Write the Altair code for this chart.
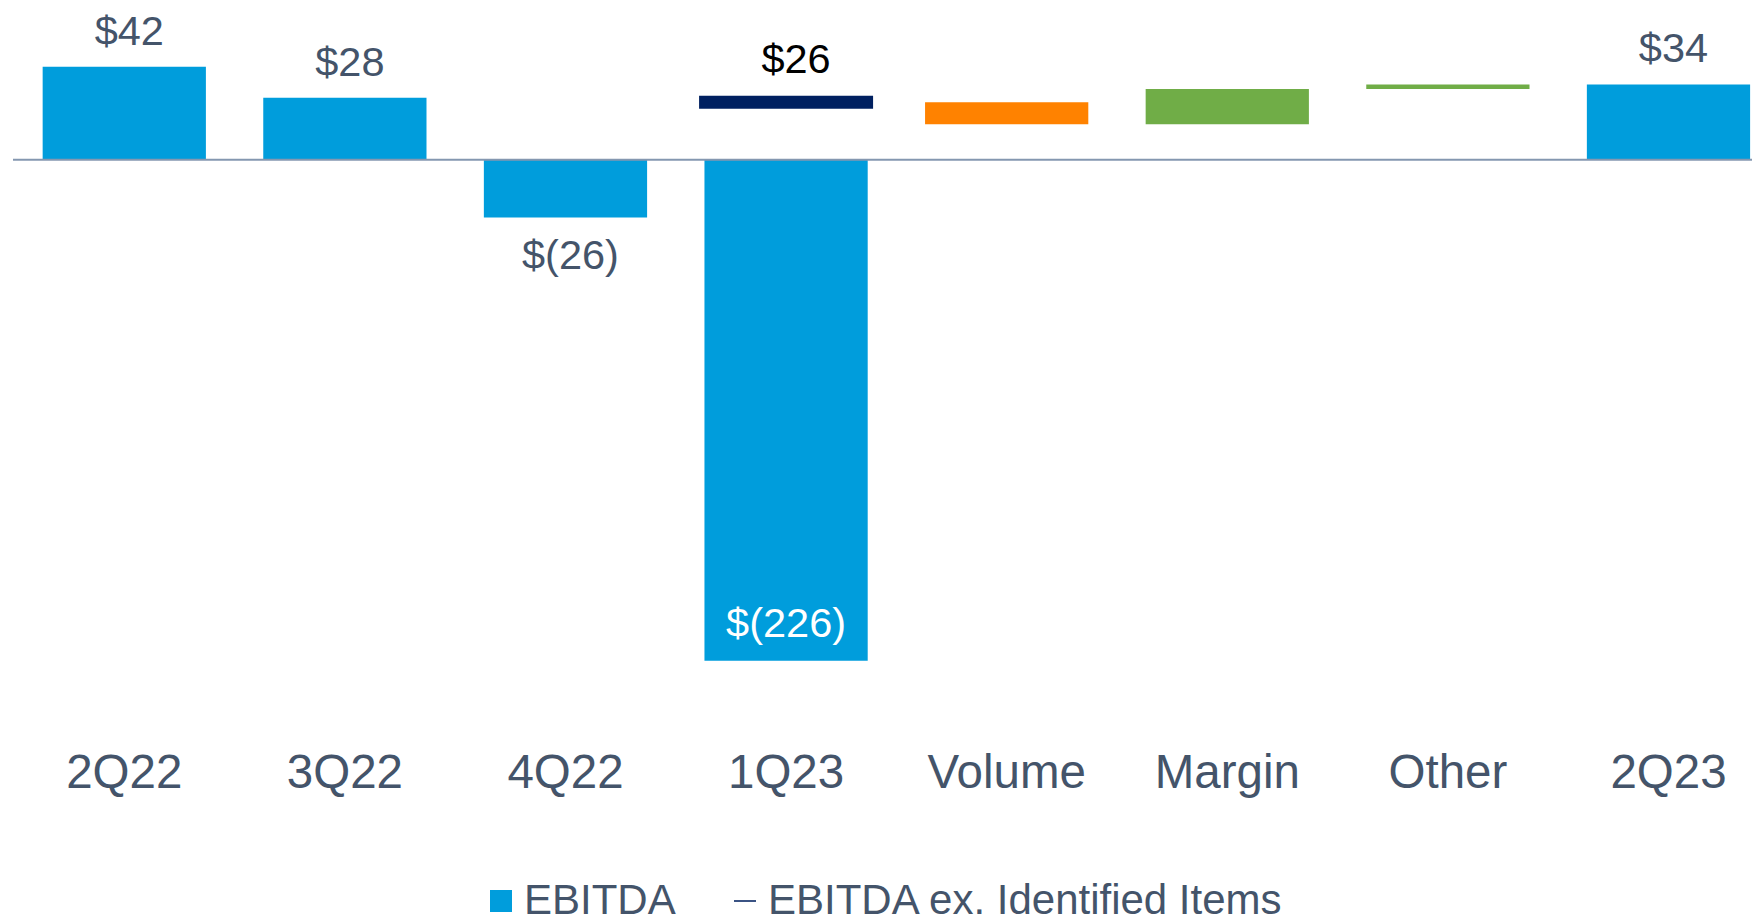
import altair as alt
import pandas as pd

# ---- data ----
categories = ["2Q22", "3Q22", "4Q22", "1Q23", "Volume", "Margin", "Other", "2Q23"]

ebitda_cats = ["2Q22", "3Q22", "4Q22", "1Q23", "2Q23"]
ebitda_vals = [42, 28, -26, -226, 34]
ebitda_label_pos = ["above", "above", "below", "inside", "above"]

ex_cats = ["1Q23"]
ex_vals = [26]

bridge_cats = ["Volume", "Margin", "Other"]
bridge_start = [26, 16, 32]
bridge_end = [16, 32, 34]
bridge_colors = ["#FF8200", "#70AD47", "#70AD47"]

series_names = ["EBITDA", "EBITDA ex. Identified Items"]
series_colors = ["#009DDC", "#002060"]
series_shapes = ["square", "M-1,-0.07H1V0.07H-1Z"]

TEXT = "#44546A"
FONT = "Liberation Sans"


def money(v):
    return f"${v}" if v >= 0 else f"$({-v})"


ebitda_df = pd.DataFrame({
    "cat": ebitda_cats,
    "val": ebitda_vals,
    "series": "EBITDA",
    "label": [money(v) for v in ebitda_vals],
    "pos": ebitda_label_pos,
})
ex_df = pd.DataFrame({
    "cat": ex_cats,
    "val": ex_vals,
    "series": "EBITDA ex. Identified Items",
    "label": [money(v) for v in ex_vals],
})
bridge_df = pd.DataFrame({
    "cat": bridge_cats,
    "start": bridge_start,
    "end": bridge_end,
    "color": bridge_colors,
})
legend_df = pd.DataFrame({"series": series_names})

x_enc = alt.X(
    "cat:N",
    sort=categories,
    scale=alt.Scale(domain=categories, paddingInner=0.26, paddingOuter=0.0715, align=0.94),
    axis=alt.Axis(
        title=None, domain=False, ticks=False, tickSize=0, grid=False,
        labelAngle=0, labelFontSize=47.5, labelColor=TEXT, labelFont=FONT,
        labelPadding=35,
    ),
)
y_scale = alt.Scale(domain=[-250, 68.5], nice=False, zero=False)
y_enc = alt.Y("val:Q", scale=y_scale, axis=None)

color_scale = alt.Scale(domain=series_names, range=series_colors)
shape_scale = alt.Scale(domain=series_names, range=series_shapes)
legend = alt.Legend(
    title=None, orient="none", direction="horizontal",
    legendX=467, legendY=872, padding=0,
    labelFontSize=42, labelColor=TEXT, labelFont=FONT, labelOffset=2,
    labelLimit=0, columnPadding=48, symbolSize=484, symbolStrokeWidth=0,
)

bars = alt.Chart(ebitda_df).mark_bar().encode(
    x=x_enc, y=y_enc,
    color=alt.Color("series:N", scale=color_scale, legend=legend),
)

ticks = alt.Chart(ex_df).mark_tick(size=174, thickness=13, opacity=1).encode(
    x=x_enc, y=y_enc,
    color=alt.Color("series:N", scale=color_scale, legend=legend),
)

legend_pts = alt.Chart(legend_df).mark_point(filled=True, size=0).encode(
    x=alt.value(0), y=alt.value(0),
    color=alt.Color("series:N", scale=color_scale, legend=legend),
    shape=alt.Shape("series:N", scale=shape_scale, legend=legend),
)

bridge = alt.Chart(bridge_df).mark_bar().encode(
    x=x_enc,
    y=alt.Y("start:Q", scale=y_scale, axis=None),
    y2="end:Q",
    color=alt.Color("color:N", scale=None),
)

zero_rule = alt.Chart(pd.DataFrame({"val": [0]})).mark_rule(color="#8497B0", strokeWidth=2).encode(
    y=alt.Y("val:Q", scale=y_scale, axis=None),
)

lab_kw = dict(font=FONT, fontSize=41.5, baseline="alphabetic", align="center")

lab_above = alt.Chart(ebitda_df).transform_filter("datum.pos == 'above'").mark_text(
    dy=-22, dx=5, color=TEXT, **lab_kw).encode(x=x_enc, y=y_enc, text="label:N")
lab_below = alt.Chart(ebitda_df).transform_filter("datum.pos == 'below'").mark_text(
    dy=52, dx=5, color=TEXT, **lab_kw).encode(x=x_enc, y=y_enc, text="label:N")
lab_inside = alt.Chart(ebitda_df).transform_filter("datum.pos == 'inside'").mark_text(
    dy=-24, dx=0, color="white", **lab_kw).encode(x=x_enc, y=y_enc, text="label:N")
lab_ex = alt.Chart(ex_df).mark_text(
    dy=-29, dx=10, color="black", **lab_kw).encode(x=x_enc, y=y_enc, text="label:N")

chart = alt.layer(
    bars, ticks, legend_pts, bridge, zero_rule, lab_above, lab_below, lab_inside, lab_ex
).properties(
    width=1739, height=706,
    autosize=alt.AutoSizeParams(type="none"),
    padding={"left": 5, "right": 0, "top": 0, "bottom": 208},
    background="white",
).configure_view(stroke=None)

chart.save("out.html", embed_options={"renderer": "svg", "actions": False})
